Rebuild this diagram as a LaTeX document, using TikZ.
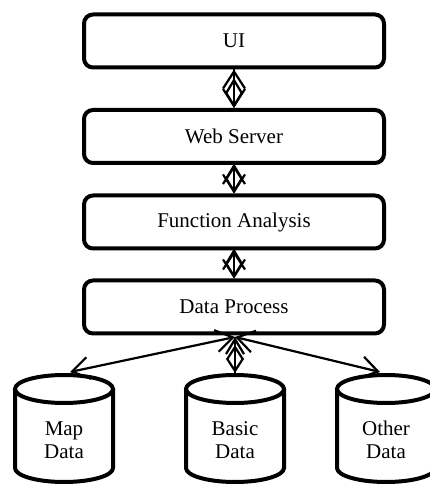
\documentclass[tikz,border=0pt]{standalone}
\usepackage{fontspec}
\setmainfont{Liberation Serif}
\usetikzlibrary{arrows.meta}
\newcommand\mycyl[1]{%
  \draw[cyl] (#1-49,96) -- (#1-49,17) arc[start angle=180,end angle=360,x radius=49,y radius=14] -- (#1+49,96);
  \draw[cyl] (#1,96) ellipse [x radius=49, y radius=14];
}
\begin{document}
\begin{tikzpicture}[x=1pt,y=1pt,
  box/.style={draw, line width=4pt, rounded corners=9pt, minimum width=300pt, minimum height=53pt, inner sep=0pt, font=\fontsize{21}{23}\selectfont},
  lbl/.style={align=center, inner sep=0pt, font=\fontsize{21}{23}\selectfont},
  conn/.style={line width=2.2pt, {Straight Barb[length=17pt,width=22pt]}-{Straight Barb[length=17pt,width=22pt]}},
  cstart/.style={line width=2.2pt, {Straight Barb[length=15pt,width=18pt]}-},
  dia/.style={line width=2.2pt, -{Diamond[open,length=30pt,width=18pt]}},
  cyl/.style={line width=4pt}]
\useasboundingbox (0,0) rectangle (429,485);
\node[box] (ui)  at (234,444)   {UI};
\node[box] (web) at (234,348.5) {Web Server};
\node[box] (fa)  at (234,263)   {Function Analysis};
\node[box] (dp)  at (234,178)   {Data Process};
\mycyl{64}
\mycyl{235}
\mycyl{386}
\node[lbl] (map)   at (64,45)  {Map\\Data};
\node[lbl] (basic) at (235,45) {Basic\\Data};
\node[lbl] (other) at (386,45) {Other\\Data};
\coordinate (mapTop)   at (70,113);
\coordinate (basicTop) at (235,112);
\coordinate (otherTop) at (380,113);
\coordinate (hub) at (235,148);
% box-to-box connectors
\draw[conn] (ui.south) -- (web.north);
\draw[dia]  (ui.south) -- (web.north);
\draw[conn] (web.south) -- (fa.north);
\draw[dia]  (web.south) -- (fa.north);
\draw[conn] (fa.south) -- (dp.north);
\draw[dia]  (fa.south) -- (dp.north);
% data connectors
\draw[conn] (hub) -- (mapTop);
\draw[conn] (hub) -- (otherTop);
\draw[cstart] (hub) -- (basicTop);
\draw[line width=2.2pt, -{Diamond[open,length=28pt,width=18pt]}] (hub) -- (basicTop);
\end{tikzpicture}
\end{document}
